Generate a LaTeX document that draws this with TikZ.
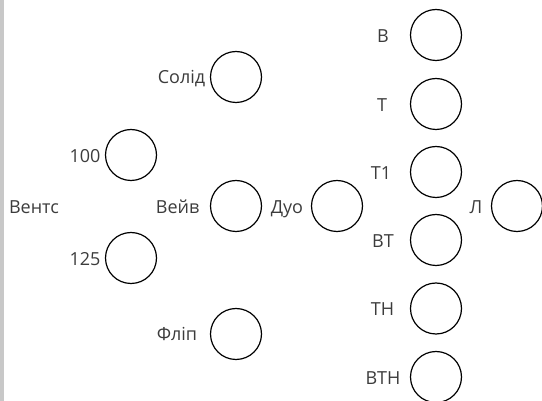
\documentclass[tikz,border=0pt]{standalone}
\usepackage{fontspec}
\setmainfont{Open Sans}
\definecolor{txt}{HTML}{3C3C3C}
\definecolor{bar}{HTML}{C8C8C8}
\begin{document}
\begin{tikzpicture}[x=1pt,y=-1pt,
  ring/.style={circle,draw=black,line width=1.2pt,minimum size=51pt,inner sep=0pt},
  lbl/.style={anchor=base,inner sep=0pt,text=txt,font=\fontsize{18}{22}\selectfont}]
\useasboundingbox (0,0) rectangle (542,401);
\fill[bar] (0,0) rectangle (4,401);
% circles
\node[ring] (c100) at (131,155) {};
\node[ring] (c125) at (131,258) {};
\node[ring] (csolid) at (236,77) {};
\node[ring] (cwave) at (236,206) {};
\node[ring] (cflip) at (236,334) {};
\node[ring] (cduo) at (337,206) {};
\node[ring] (cb) at (436,35) {};
\node[ring] (ct) at (436,104) {};
\node[ring] (ct1) at (436,172) {};
\node[ring] (cbt) at (436,240) {};
\node[ring] (ctn) at (436,308.5) {};
\node[ring] (cbtn) at (436,377) {};
\node[ring] (cl) at (517,206) {};
% labels
\node[lbl] (lvents) at (34,214) {Вентс};
\node[lbl] (l100) at (85,163) {100};
\node[lbl] (l125) at (85,266) {125};
\node[lbl] (lsolid) at (181.5,84) {Солід};
\node[lbl] (lwave) at (177.6,214) {Вейв};
\node[lbl] (lflip) at (177,341) {Фліп};
\node[lbl] (lduo) at (287,214) {Дуо};
\node[lbl] (lb) at (383,43) {В};
\node[lbl] (lt) at (382,112) {Т};
\node[lbl] (lt1) at (381,180) {Т1};
\node[lbl] (lbt) at (383,248) {ВТ};
\node[lbl] (ltn) at (382.5,316) {ТН};
\node[lbl] (lbtn) at (383,385) {ВТН};
\node[lbl] (ll) at (476,214) {Л};
\end{tikzpicture}
\end{document}
